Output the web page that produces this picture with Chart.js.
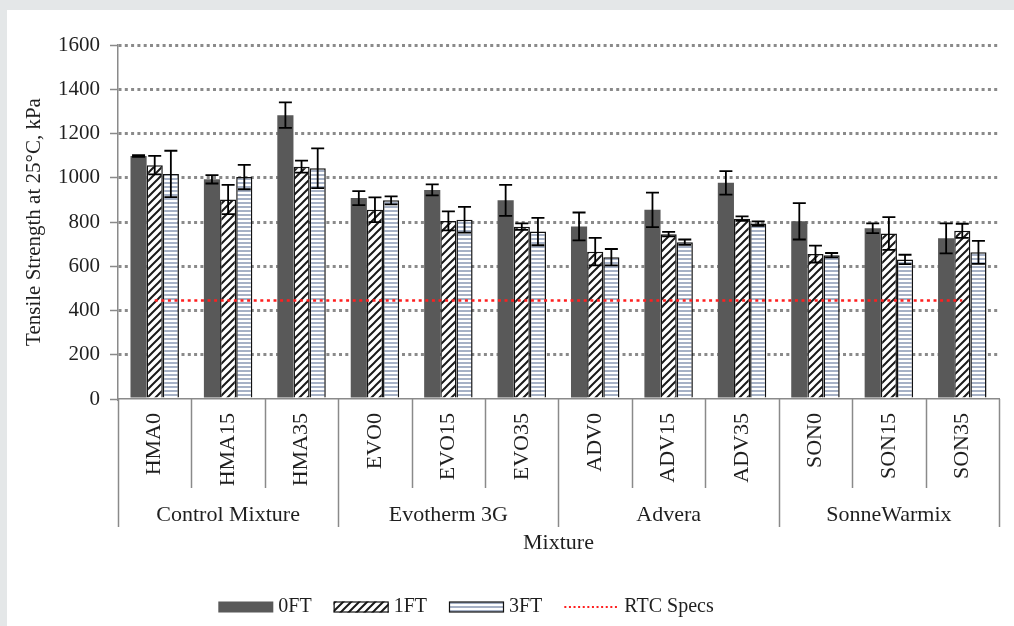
<!DOCTYPE html>
<html>
<head>
<meta charset="utf-8">
<script src="https://cdn.jsdelivr.net/npm/chart.js@4/dist/chart.umd.min.js"></script>
<style>
  html, body { margin: 0; padding: 0; background: #e4e7e8; }
  #wrap { position: absolute; left: 7px; top: 10px; width: 1007px; height: 616px; background: #fff; }
</style>
</head>
<body>
<div id="wrap"><canvas id="myChart"></canvas></div>
<script>
// mezclas y grupos del eje X
const categorias = ["HMA0", "HMA15", "HMA35", "EVO0", "EVO15", "EVO35", "ADV0", "ADV15", "ADV35", "SON0", "SON15", "SON35"];
const grupos = ["Control Mixture", "Evotherm 3G", "Advera", "SonneWarmix"];
const porGrupo = 3;

// resistencia a tracción (kPa) y desviación por ciclos de congelamiento
const ft0 = [1098, 993, 1283, 908, 945, 898, 780, 855, 977, 803, 772, 726];
const ft0Err = [4, 19, 58, 32, 25, 70, 63, 78, 53, 82, 22, 68];
const ft1 = [1057, 902, 1050, 855, 805, 779, 666, 745, 815, 655, 748, 760];
const ft1Err = [42, 66, 27, 56, 43, 15, 62, 10, 10, 38, 74, 32];
const ft3 = [1017, 1003, 1043, 898, 810, 757, 641, 709, 793, 650, 631, 663];
const ft3Err = [105, 55, 90, 18, 58, 62, 37, 12, 10, 10, 21, 52];
const rtcSpecs = [445, 445, 445, 445, 445, 445, 445, 445, 445, 445, 445, 445];

const ticksY = [0, 200, 400, 600, 800, 1000, 1200, 1400, 1600];

const fuente = "'Liberation Serif', 'Times New Roman', serif";
const gris = "#8a8a8a";
const texto = "#1f1f1f";

// tramas de relleno
function rayado() {
  const c = document.createElement("canvas");
  c.width = 8; c.height = 8;
  const g = c.getContext("2d");
  g.fillStyle = "#fff";
  g.fillRect(0, 0, 8, 8);
  g.strokeStyle = "#1a1a1a";
  g.lineWidth = 2;
  g.beginPath();
  g.moveTo(-2, 10); g.lineTo(10, -2);
  g.moveTo(-2, 2); g.lineTo(2, -2);
  g.moveTo(6, 10); g.lineTo(10, 6);
  g.stroke();
  return g.createPattern(c, "repeat");
}

function franjas() {
  const c = document.createElement("canvas");
  c.width = 4; c.height = 4;
  const g = c.getContext("2d");
  g.fillStyle = "#fff";
  g.fillRect(0, 0, 4, 4);
  g.fillStyle = "#a6b1c6";
  g.fillRect(0, 0, 4, 2);
  return g.createPattern(c, "repeat");
}

const patronRayado = rayado();
const patronFranjas = franjas();

// barras de error
const errores = [ft0Err, ft1Err, ft3Err];
const barrasError = {
  id: "barrasError",
  afterDatasetsDraw(chart) {
    const { ctx } = chart;
    const y = chart.scales.y;
    ctx.save();
    ctx.strokeStyle = "#000";
    ctx.lineWidth = 1.8;
    errores.forEach((err, i) => {
      const meta = chart.getDatasetMeta(i + 1);
      const datos = chart.data.datasets[i + 1].data;
      meta.data.forEach((bar, j) => {
        const y1 = y.getPixelForValue(datos[j] + err[j]);
        const y2 = y.getPixelForValue(datos[j] - err[j]);
        ctx.beginPath();
        ctx.moveTo(bar.x, y1); ctx.lineTo(bar.x, y2);
        ctx.moveTo(bar.x - 6.5, y1); ctx.lineTo(bar.x + 6.5, y1);
        ctx.moveTo(bar.x - 6.5, y2); ctx.lineTo(bar.x + 6.5, y2);
        ctx.stroke();
      });
    });
    ctx.restore();
  }
};

// divisiones de categorías y nombres de grupo bajo el eje
const ejeGrupos = {
  id: "ejeGrupos",
  afterDraw(chart) {
    const { ctx } = chart;
    const x = chart.scales.x;
    const base = x.top;
    const medio = (x.getPixelForValue(1) - x.getPixelForValue(0)) / 2;
    ctx.save();
    ctx.strokeStyle = gris;
    ctx.lineWidth = 1.5;
    for (let i = 0; i <= categorias.length; i++) {
      const px = Math.round(x.getPixelForValue(i) - medio) + 0.5;
      const largo = i % porGrupo === 0 ? 128 : 89;
      ctx.beginPath();
      ctx.moveTo(px, base);
      ctx.lineTo(px, base + largo);
      ctx.stroke();
    }
    ctx.fillStyle = texto;
    ctx.font = "22px " + fuente;
    ctx.textAlign = "center";
    ctx.textBaseline = "middle";
    grupos.forEach((g, k) => {
      const a = x.getPixelForValue(k * porGrupo) - medio;
      const b = x.getPixelForValue(k * porGrupo + porGrupo - 1) + medio;
      ctx.fillText(g, (a + b) / 2, base + 116);
    });
    ctx.restore();
  }
};

// leyenda dibujada a mano
const leyenda = {
  id: "leyenda",
  afterDraw(chart) {
    const { ctx } = chart;
    const items = chart.data.datasets.slice(1).concat(chart.data.datasets[0]);
    ctx.save();
    ctx.font = "20px " + fuente;
    ctx.textBaseline = "middle";
    const caja = 55, sep = 5, hueco = 22;
    let total = 0;
    items.forEach((d, i) => {
      total += caja + sep + ctx.measureText(d.label).width + (i < items.length - 1 ? hueco : 0);
    });
    let px = 459 - total / 2;
    const py = 597;
    items.forEach(d => {
      if (d.type === "line") {
        ctx.strokeStyle = d.borderColor;
        ctx.lineWidth = 2;
        ctx.setLineDash([2, 2.6]);
        ctx.beginPath();
        ctx.moveTo(px, py); ctx.lineTo(px + caja, py);
        ctx.stroke();
        ctx.setLineDash([]);
      } else {
        ctx.fillStyle = d.backgroundColor;
        ctx.fillRect(px, py - 5.5, caja, 11);
        if (d.borderWidth) {
          ctx.strokeStyle = d.borderColor;
          ctx.lineWidth = 1.2;
          ctx.strokeRect(px + 0.5, py - 5, caja - 1, 10);
        }
      }
      px += caja + sep;
      ctx.fillStyle = texto;
      ctx.fillText(d.label, px, py);
      px += ctx.measureText(d.label).width + hueco;
    });
    ctx.restore();
  }
};

document.addEventListener("DOMContentLoaded", () => {
  const ctx = document.getElementById("myChart");

  Chart.defaults.font.family = fuente;
  Chart.defaults.color = texto;

  new Chart(ctx, {
    type: "bar",
    data: {
      labels: categorias,
      datasets: [
        {
          type: "line",
          label: "RTC Specs",
          data: rtcSpecs,
          borderColor: "#ff1f1f",
          borderWidth: 2.6,
          borderDash: [3, 3.6],
          pointRadius: 0,
          fill: false,
          order: 0
        },
        { label: "0FT", data: ft0, backgroundColor: "#595959", borderWidth: 0, order: 1 },
        { label: "1FT", data: ft1, backgroundColor: patronRayado, borderColor: "#111", borderWidth: 1.5, order: 1 },
        { label: "3FT", data: ft3, backgroundColor: patronFranjas, borderColor: "#111", borderWidth: 1.5, order: 1 }
      ]
    },
    options: {
      responsive: true,
      maintainAspectRatio: false,
      animation: false,
      layout: { padding: { left: 0, right: 15, top: 35, bottom: 67 } },
      datasets: { bar: { categoryPercentage: 0.66, barPercentage: 1.0 } },
      plugins: {
        legend: { display: false },
        tooltip: { enabled: false }
      },
      scales: {
        x: {
          grid: { display: false, drawTicks: false },
          border: { color: gris, width: 1.5 },
          ticks: {
            font: { size: 22 },
            color: texto,
            minRotation: 90,
            maxRotation: 90,
            padding: 14,
            autoSkip: false
          },
          title: {
            display: true,
            text: "Mixture",
            font: { size: 22 },
            color: texto,
            padding: { top: 0, bottom: 3 }
          },
          afterFit(scale) { scale.height = 160; }
        },
        y: {
          min: 0,
          max: 1600,
          afterBuildTicks(scale) { scale.ticks = ticksY.map(v => ({ value: v })); },
          grid: {
            color: c => (c.tick && c.tick.value === 0 ? "rgba(0,0,0,0)" : gris),
            lineWidth: 3,
            tickLength: 8,
            tickWidth: 1.5,
            tickColor: gris,
            tickBorderDash: []
          },
          border: { color: gris, width: 1.5, dash: [3, 3.3] },
          ticks: {
            font: { size: 21 },
            color: texto,
            padding: 10,
            callback: v => String(v)
          },
          title: {
            display: true,
            text: "Tensile Strength at 25°C, kPa",
            font: { size: 21 },
            color: texto,
            padding: { top: 15, bottom: 0 }
          },
          afterFit(scale) { scale.width = 111; }
        }
      }
    },
    plugins: [barrasError, ejeGrupos, leyenda]
  });
});
</script>
</body>
</html>
